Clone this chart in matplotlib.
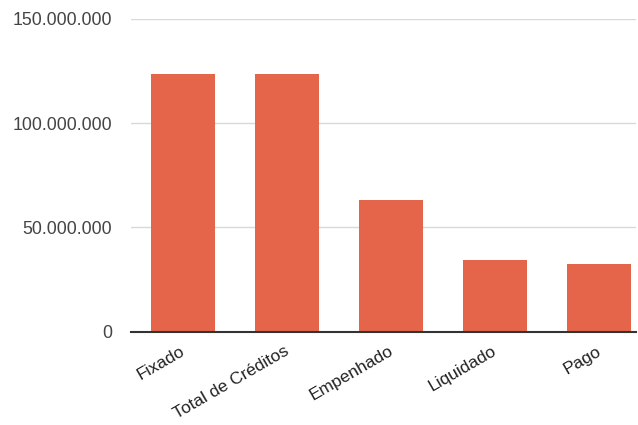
import matplotlib.pyplot as plt
import matplotlib.transforms as mtransforms
from matplotlib.ticker import FuncFormatter

categorias = ["Fixado", "Total de Créditos", "Empenhado", "Liquidado", "Pago"]
valores = [123600000, 123600000, 63000000, 34200000, 32300000]
ticks_y = [0, 50000000, 100000000, 150000000]

plt.rcParams["font.family"] = ["Liberation Sans", "DejaVu Sans"]

fig = plt.figure(figsize=(6.38, 4.25), dpi=100)
ax = fig.add_axes([0.2053, 0.2195, 0.7916, 0.7358])

x = range(len(categorias))
ax.bar(x, valores, width=0.615, color="#e5654b", zorder=3)

ax.set_ylim(0, 150000000)
ax.set_xlim(-0.5, 4.356)
ax.set_yticks(ticks_y)
ax.yaxis.set_major_formatter(FuncFormatter(lambda v, p: f"{int(v):,}".replace(",", ".")))
ax.grid(axis="y", color="#d9d9d9", linewidth=1, zorder=0)

for s in ["top", "right", "left"]:
    ax.spines[s].set_visible(False)
ax.spines["bottom"].set_color("#333333")
ax.spines["bottom"].set_linewidth(1.5)
ax.spines["bottom"].set_zorder(4)

ax.tick_params(axis="y", length=0, pad=13.5, labelsize=12.8, labelcolor="#444444")
ax.tick_params(axis="x", length=0, pad=8.5, labelsize=12.5, labelcolor="#222222")
ax.set_xticks(list(x))
ax.set_xticklabels(categorias, rotation=30, ha="right", rotation_mode="anchor")

# leve deslocamento dos rótulos para a esquerda
desloc = mtransforms.ScaledTranslation(-3 / 100, 0, fig.dpi_scale_trans)
for lbl in ax.get_xticklabels():
    lbl.set_transform(lbl.get_transform() + desloc)

fig.savefig("out.png", dpi=100)
